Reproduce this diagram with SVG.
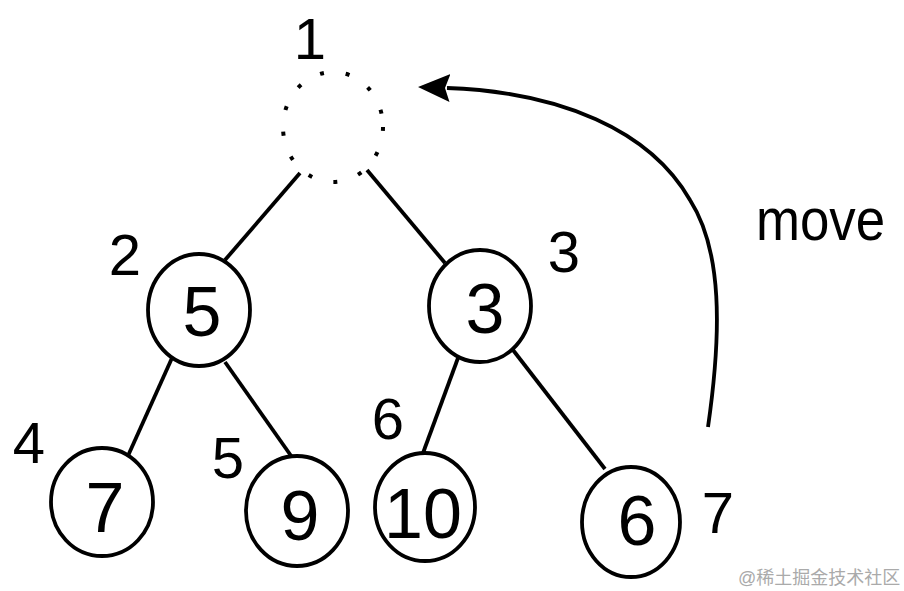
<svg xmlns="http://www.w3.org/2000/svg" width="904" height="591" viewBox="0 0 904 591">
<style>
.node{fill:#fff;stroke:#000;stroke-width:3.8}
.dot{fill:none;stroke:#000;stroke-width:4;stroke-dasharray:4 22}
.edge{fill:none;stroke:#000;stroke-width:3.8}
.val{font-family:"Liberation Sans",Arial,sans-serif;font-size:70px;fill:#000;text-anchor:middle}
.idx{font-family:"Liberation Sans",Arial,sans-serif;font-size:58px;fill:#000;text-anchor:middle}
.lbl{font-family:"Liberation Sans",Arial,sans-serif;font-size:60px;fill:#000}
.wm{font-family:"Liberation Sans","Noto Sans CJK SC",sans-serif;font-size:18px;fill:#aaa}
</style>
<defs>
<marker id="arrow" viewBox="0 0 32 30" markerUnits="userSpaceOnUse" markerWidth="32" markerHeight="30" refX="3" refY="15" orient="auto">
<path d="M32,15 L0,1 L5,15 L0,29 Z" fill="#000"/>
</marker>
</defs>
<rect width="904" height="591" fill="#fff"/>
<g id="connectors">
<line class="edge" x1="300" y1="173" x2="225" y2="260"/>
<line class="edge" x1="367" y1="170" x2="445" y2="263"/>
<line class="edge" x1="172" y1="358" x2="127" y2="458"/>
<line class="edge" x1="225" y1="362" x2="294" y2="460"/>
<line class="edge" x1="458" y1="358" x2="423" y2="453"/>
<line class="edge" x1="513" y1="350" x2="605" y2="469"/>
<path class="edge" d="M708,427 C722,330 722,250 690,200 C650,130 560,92 447,88" marker-end="url(#arrow)"/>
<text class="lbl" transform="translate(756,240) scale(0.88,1)">move</text>
</g>
<g id="node-root">
<ellipse class="dot" cx="333" cy="127" rx="50" ry="55"/>
<text class="idx" x="310" y="59">1</text>
</g>
<g id="node-5">
<ellipse class="node" cx="199" cy="310" rx="51" ry="56"/>
<text class="val" x="202" y="336">5</text>
<text class="idx" x="125" y="275">2</text>
</g>
<g id="node-3">
<ellipse class="node" cx="480" cy="306" rx="51" ry="56"/>
<text class="val" x="485" y="333">3</text>
<text class="idx" x="564" y="272">3</text>
</g>
<g id="node-7">
<ellipse class="node" cx="102" cy="502" rx="51" ry="54"/>
<text class="val" x="105" y="532">7</text>
<text class="idx" x="29" y="463">4</text>
</g>
<g id="node-9">
<ellipse class="node" cx="297" cy="511" rx="51" ry="55"/>
<text class="val" x="300" y="540">9</text>
<text class="idx" x="228" y="478">5</text>
</g>
<g id="node-10">
<ellipse class="node" cx="425" cy="507" rx="50" ry="54"/>
<text class="val" x="423" y="538">10</text>
<text class="idx" x="388" y="439">6</text>
</g>
<g id="node-6">
<ellipse class="node" cx="631" cy="522" rx="49" ry="55"/>
<text class="val" x="637" y="545">6</text>
<text class="idx" x="718" y="533">7</text>
</g>
<text class="wm" x="738" y="584">@稀土掘金技术社区</text>
</svg>
